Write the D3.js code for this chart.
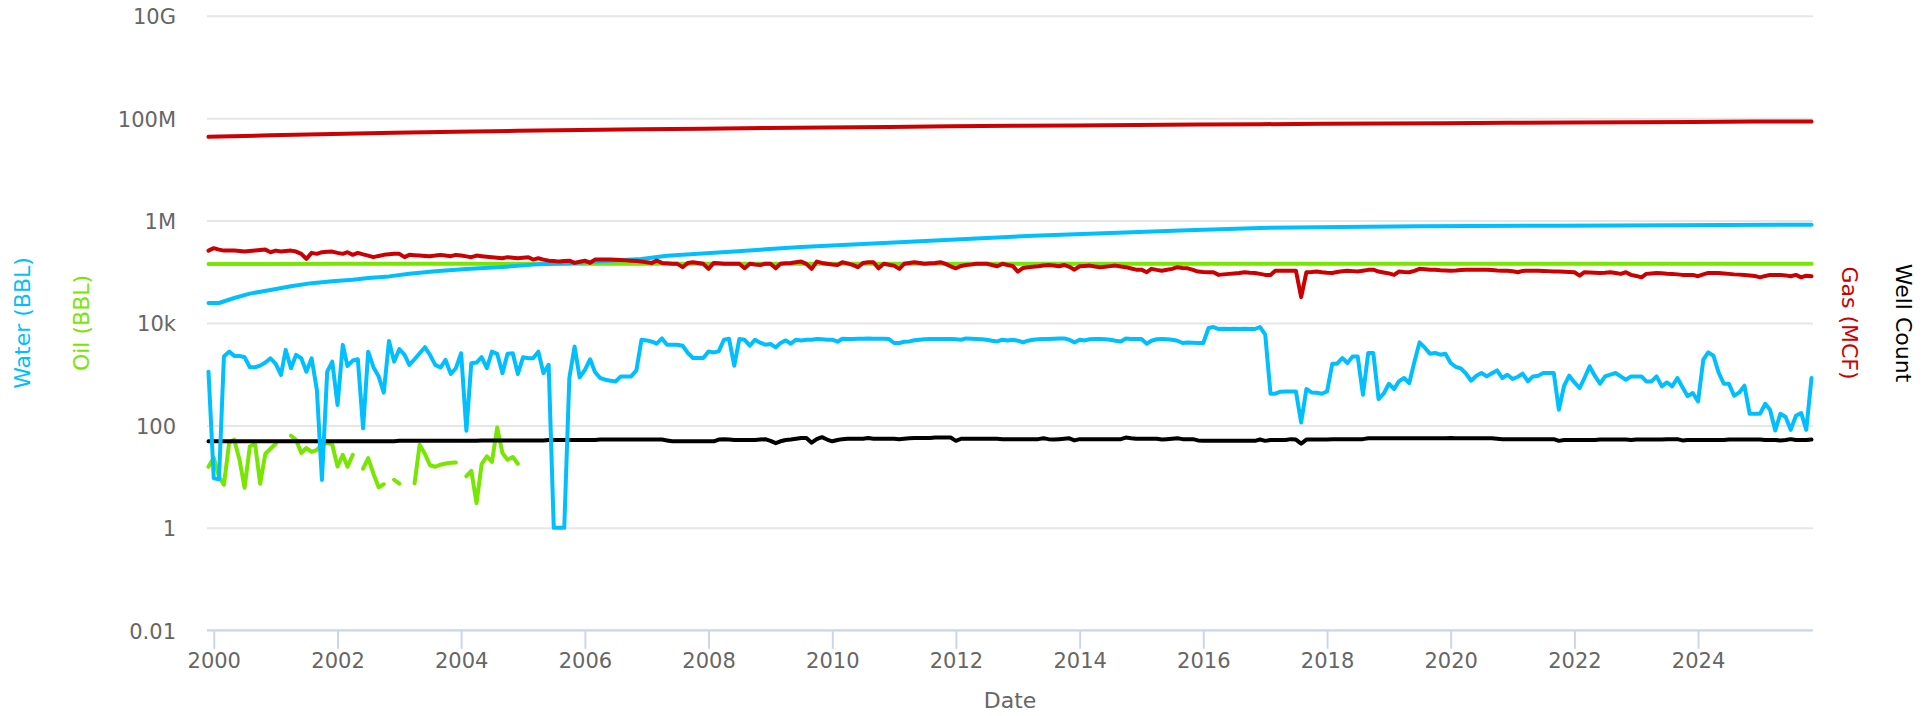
<!DOCTYPE html>
<html><head><meta charset="utf-8">
<script src="https://cdn.jsdelivr.net/npm/d3@7"></script>
<style>
body{margin:0;background:#fff}
svg{display:block}
text{font-family:"DejaVu Sans",sans-serif}
</style>
</head><body>
<svg id="chart" width="1929" height="716"></svg>
<script>
// ---------- DATA ----------
const firstMonth = "1999-12-01";   // monthly series start (Dec 1999 .. Nov 2025)
const lastMonth  = "2025-11-01";

const yTickValues = [0.01, 1, 100, 1e4, 1e6, 1e8, 1e10];
const yTickLabels = ["0.01", "1", "100", "10k", "1M", "100M", "10G"];

const waterMonthly = [
1120,9.3,8.9,2210,2760,2280,2280,2150,1370,1370,
1470,1690,2050,1590,970,2990,1310,2380,2050,1120,
2050,494,8.6,1120,1760,251,3740,1450,1850,1960,
88,2760,1370,900,437,4470,1760,3080,2380,1520,
1960,2570,3370,2380,1520,1350,1900,1010,1310,2570,
79,1640,1690,2150,1310,2760,2500,1050,2500,2570,
1010,2150,2050,2050,2760,1050,1520,1,1,1,
843,3460,870,1210,1960,1110,843,781,746,723,
906,906,906,1186,4719,4572,4312,3942,5003,3769,
3769,3769,3603,2595,2072,2072,2072,2788,2665,2788,
4719,4936,1466,4870,4719,3603,4719,4123,3769,3889,
3338,4068,4572,3942,4719,4572,4719,4719,4870,4826,
4719,4719,4312,4936,4870,4870,4936,4936,5003,4936,
4936,4936,4870,4068,4068,4312,4371,4614,4719,4826,
4870,4870,4870,4870,4870,4826,4719,5003,4936,4870,
4826,4719,4511,4371,4719,4572,4719,4511,4179,4511,
4719,4826,4870,4870,4936,4981,5003,4719,4179,4719,
4572,4826,4870,4870,4826,4719,4511,4371,5003,4870,
4870,4870,3942,4511,4826,4870,4826,4719,4511,4068,
4179,4123,4068,4068,7985,8350,7632,7740,7632,7740,
7632,7740,7632,7632,8350,5908,416,416,455,461,
461,461,114,514,441,435,416,461,1603,1603,
2072,1655,2226,2226,398,2595,2595,328,416,652,
514,723,843,667,1754,4179,3297,2514,2595,2403,
2514,1655,1382,1298,1023,746,935,1055,906,1045,
1186,843,978,806,892,1023,723,906,935,1055,
1055,1055,203,596,935,691,538,843,1420,935,
652,906,978,1055,906,781,906,906,906,723,
723,906,578,691,578,843,557,373,429,294,
1919,2665,2297,1084,652,652,380,441,596,169,
169,169,265,203,80,169,146,82,155,175,
82,843];

const gasMonthly = [
259000,289000,271000,259000,259000,259000,254000,248000,254000,259000,
265000,271000,241000,259000,248000,254000,259000,248000,224000,179000,
234000,224000,241000,245000,248000,234000,224000,241000,214000,234000,
219000,207000,193000,204000,214000,219000,224000,224000,193000,214000,
211000,207000,204000,202000,207000,214000,207000,202000,214000,207000,
200000,193000,207000,202000,197000,193000,188000,184000,193000,188000,
184000,188000,193000,173000,184000,173000,165000,163000,158000,162000,
165000,149000,157000,165000,149000,173000,173000,173000,173000,171000,
169000,167000,165000,162000,158000,154000,149000,165000,149000,146000,
143000,143000,123000,149000,154000,149000,143000,114000,149000,146000,
143000,143000,143000,143000,117000,143000,139000,136000,143000,143000,
117000,143000,146000,149000,154000,158000,143000,114000,158000,149000,
143000,139000,136000,154000,146000,136000,123000,149000,153000,154000,
117000,143000,137000,132000,114000,143000,149000,154000,149000,143000,
146000,149000,154000,143000,128000,117000,130000,136000,139000,143000,
143000,143000,136000,128000,143000,136000,130000,101000,119000,123000,
126000,128000,132000,136000,133000,128000,136000,125000,110000,128000,
130000,132000,127000,123000,126000,129000,132000,127000,123000,116000,
110000,110000,98000,114000,109000,105000,110000,114000,123000,119000,
117000,109000,101000,99000,98000,98000,87000,89000,91000,93000,
95000,98000,96000,95000,91000,87000,87000,105000,105000,105000,
105000,105000,32000,98000,99000,101000,98000,96000,95000,99000,
102000,105000,103000,101000,105000,109000,110000,101000,97000,93000,
87000,101000,99000,98000,104000,114000,112000,110000,109000,107000,
106000,105000,106000,108000,109000,110000,110000,110000,109000,108000,
106000,105000,105000,102000,98000,104000,105000,105000,105000,104000,
103000,101000,101000,100000,99000,98000,84000,98000,97000,96000,
95000,96000,98000,95000,91000,98000,87000,83000,78000,91000,
93000,95000,94000,92000,91000,89000,87000,87000,87000,82000,
89000,95000,95000,95000,93000,91000,89000,88000,87000,85000,
83000,78000,83000,87000,87000,87000,85000,82000,87000,78000,
84000,82000];

// oil was only reported Dec 1999 .. Dec 2004 (null = no report)
const oilMonthly = [
15.6,23.4,10.0,6.95,45.9,52.6,21.4,6.07,38.9,43.9,
7.3,28.0,35.1,43.9,null,null,63,52.6,28.9,36.2,
30.6,33.5,42.0,45.9,42.0,15.8,26.8,15.6,26.8,null,
14.3,23.1,11.4,6.2,7.1,null,8.7,7.3,null,null,
7.4,42.0,28.0,16.7,15.6,17.1,18.1,18.7,18.9,null,
10.2,13.0,3.05,17.5,25.0,19.5,91,28.9,21.4,24.1,
17.9];

const wellCount = [
49,49,49,49,49,49,49,49,49,49,
49,49,49,49,49,49,49,49,49,49,
49,49,49,49,49,49,49,49,49,49,
49,49,49,49,49,49,49,50,50,50,
50,50,50,50,50,50,50,50,50,50,
50,50,50,51,51,51,51,51,51,51,
51,51,51,51,51,51,52,52,52,52,
52,52,52,52,52,52,53,53,53,53,
53,53,53,53,53,53,53,53,53,51,
49,49,49,49,49,49,49,49,49,53,
54,53,52,52,52,52,52,53,54,50,
45,49,52,53,55,57,57,46,54,59,
53,49,52,54,55,55,55,55,57,55,
55,55,55,55,54,55,56,57,57,57,
57,58,58,58,58,50,55,55,55,55,
55,55,55,55,54,54,54,54,54,54,
54,54,56,54,53,54,55,56,51,54,
54,54,54,54,54,54,54,54,58,56,
55,55,55,55,55,53,54,55,56,54,
54,54,51,50,50,50,50,50,50,50,
50,50,50,50,53,50,52,52,52,52,
54,53,44,53,53,53,53,53,54,54,
54,54,54,54,54,56,56,56,56,56,
56,56,56,56,56,56,56,56,56,56,
56,57,56,56,56,56,56,56,56,56,
55,54,54,54,54,54,54,54,54,54,
54,54,50,52,52,52,52,52,52,52,
53,53,53,53,53,53,52,53,53,53,
53,53,53,54,54,54,51,52,52,52,
52,52,52,52,52,53,53,53,53,53,
53,53,52,52,52,51,52,54,52,52,
52,53];

// cumulative series, read at selected months (index from Dec 1999)
const waterCumMonth = [0,2,5,8,12,16,20,24,28,31,35,39,44,50,57,63,67,70,76,84,89,102,115,128,141,160,175,190,204,220,235,262,311];
const waterCumValue = [24600,24600,30800,37500,44000,52000,60000,65000,70000,75700,81300,91800,102000,113000,124000,138000,144000,146000,160000,178000,206000,250000,305000,354000,410000,507000,573000,644000,717000,750000,771000,795000,832000];

const gasCumMonth = [0,12,24,36,48,60,72,84,96,108,120,132,144,156,168,180,192,204,216,228,240,252,264,276,288,300,311];
const gasCumValue = [43.1e6,46.2e6,49.1e6,51.7e6,54.2e6,56.5e6,58.6e6,60.6e6,62.3e6,64.0e6,65.7e6,67.4e6,69.1e6,70.7e6,72.2e6,73.7e6,75.0e6,76.2e6,77.3e6,78.5e6,79.7e6,81.0e6,82.2e6,83.4e6,84.4e6,85.5e6,86.4e6];

const oilCumMonth = [0,12,24,36,48,60,311];
const oilCumValue = [142300,142600,142900,143100,143300,143400,143400];

// ---------- STYLE ----------
const C = {water:"#00bfff", oil:"#77e600", gas:"#cc0000", well:"#000000",
           grid:"#e6e6e6", axis:"#ccd6eb", label:"#666666"};
const plot = {left:207, right:1813, top:15.7, bottom:630.3};

// ---------- SCALES ----------
const parse = d3.utcParse("%Y-%m-%d");
const t0 = parse(firstMonth), t1 = parse(lastMonth);
const x = d3.scaleUtc().domain([t0, t1]).range([208.5, 1811.5]);
const y = d3.scaleLog().domain([0.01, 1e10]).range([plot.bottom, plot.top]);
const monthAt = i => d3.utcMonth.offset(t0, i);

const svg = d3.select("#chart");

// gridlines
svg.append("g").attr("transform", `translate(${plot.left},0)`)
  .call(d3.axisLeft(y).tickValues(yTickValues).tickFormat("").tickSize(-(plot.right-plot.left)).tickSizeOuter(0))
  .call(g => g.select(".domain").remove())
  .call(g => g.selectAll("line").attr("stroke", C.grid).attr("stroke-width", 2));

// y labels
svg.append("g").attr("transform", `translate(${plot.left},0)`)
  .call(d3.axisLeft(y).tickValues(yTickValues).tickFormat((d,i)=>yTickLabels[i]).tickSize(0).tickPadding(31))
  .call(g => g.select(".domain").remove())
  .call(g => g.selectAll("text").attr("fill", C.label).attr("font-size", 21)
        .attr("font-family", "DejaVu Sans").attr("dy", "0.38em"));

// x axis line
svg.append("line").attr("x1", plot.left).attr("x2", plot.right)
  .attr("y1", plot.bottom).attr("y2", plot.bottom)
  .attr("stroke", C.axis).attr("stroke-width", 2);

// x axis ticks + labels
svg.append("g").attr("transform", `translate(0,${plot.bottom})`)
  .call(d3.axisBottom(x).ticks(d3.utcYear.every(2)).tickFormat(d3.utcFormat("%Y")).tickSize(18.5).tickSizeOuter(0).tickPadding(4.6))
  .call(g => g.select(".domain").remove())
  .call(g => g.selectAll("line").attr("stroke", C.axis).attr("stroke-width", 2))
  .call(g => g.selectAll("text").attr("fill", C.label).attr("font-size", 21).attr("font-family", "DejaVu Sans"));

// axis titles
svg.append("text").text("Date").attr("x", (plot.left+plot.right)/2).attr("y", 708)
  .attr("text-anchor","middle").attr("fill", C.label).attr("font-size", 22);
const midY = (plot.top+plot.bottom)/2;
svg.append("text").text("Water (BBL)").attr("transform", `translate(30,${midY}) rotate(-90)`)
  .attr("text-anchor","middle").attr("fill", C.water).attr("font-size", 22);
svg.append("text").text("Oil (BBL)").attr("transform", `translate(89,${midY}) rotate(-90)`)
  .attr("text-anchor","middle").attr("fill", C.oil).attr("font-size", 22);
svg.append("text").text("Gas (MCF)").attr("transform", `translate(1841.5,${midY}) rotate(90)`)
  .attr("text-anchor","middle").attr("fill", C.gas).attr("font-size", 22);
svg.append("text").text("Well Count").attr("transform", `translate(1896,${midY}) rotate(90)`)
  .attr("text-anchor","middle").attr("fill", C.well).attr("font-size", 22);

// ---------- LINES ----------
const line = d3.line().defined(d => d.v != null).x(d => x(d.t)).y(d => y(d.v));
const monthly = arr => arr.map((v,i) => ({t: monthAt(i), v}));
const sparse = (ms, vs) => ms.map((m,i) => ({t: monthAt(m), v: vs[i]}));

const series = [
  {data: sparse(oilCumMonth, oilCumValue), color: C.oil},
  {data: monthly(oilMonthly), color: C.oil},
  {data: monthly(wellCount), color: C.well},
  {data: monthly(waterMonthly), color: C.water},
  {data: sparse(waterCumMonth, waterCumValue), color: C.water},
  {data: monthly(gasMonthly), color: C.gas},
  {data: sparse(gasCumMonth, gasCumValue), color: C.gas}
];
const gL = svg.append("g");
series.forEach(s => {
  gL.append("path").attr("d", line(s.data)).attr("fill","none")
    .attr("stroke", s.color).attr("stroke-width", 4)
    .attr("stroke-linejoin","round").attr("stroke-linecap","round");
});
</script>
</body></html>
